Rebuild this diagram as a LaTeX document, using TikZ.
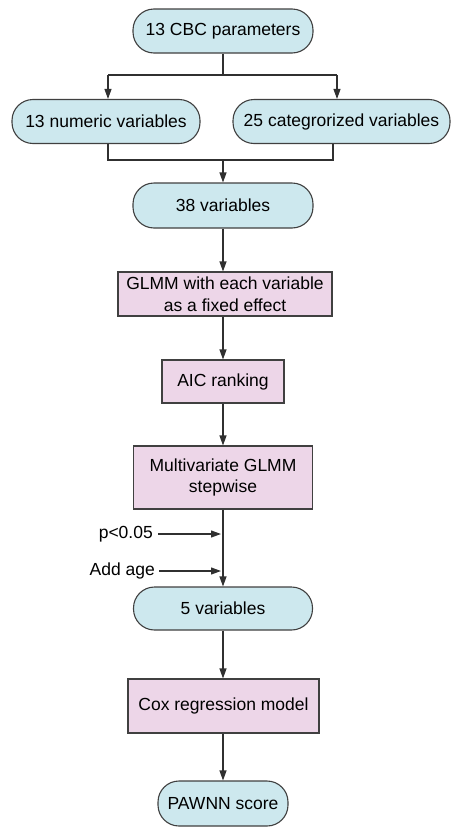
\documentclass[tikz,border=0pt]{standalone}
\usepackage{fontspec}
\setmainfont{Liberation Sans}
\usetikzlibrary{arrows.meta}
\definecolor{bluef}{HTML}{CDE8EE}
\definecolor{pinkf}{HTML}{EDD6E8}
\definecolor{edgec}{HTML}{404040}
\definecolor{linec}{HTML}{303030}
\begin{document}
\begin{tikzpicture}[x=1pt,y=-1pt,
  term/.style={draw=edgec, line width=1.1pt, fill=bluef, rounded corners=21pt, minimum height=44pt, inner sep=0pt, font=\fontsize{17.5}{21}\selectfont},
  proc/.style={draw=edgec, line width=1.1pt, fill=pinkf, inner sep=0pt, align=center, font=\fontsize{17.5}{21.5}\selectfont},
  conn/.style={draw=linec, line width=1.1pt},
  arr/.style={conn, -{Triangle[length=10pt,width=7pt]}},
  lbl/.style={inner sep=0pt, font=\fontsize{17.5}{21}\selectfont}]
\useasboundingbox (0,0) rectangle (451,830);
\node[term, minimum width=180pt] (cbc) at (223,31) {13 CBC parameters};
\node[term, minimum width=188pt] (num) at (106,121.5) {13 numeric variables};
\node[term, minimum width=217pt] (cat) at (341.5,121.5) {25 categrorized variables};
\node[term, minimum width=180pt, minimum height=45pt] (v38) at (223,205.5) {38 variables};
\node[proc, minimum width=214pt, minimum height=44pt] (glmm) at (225,294) {GLMM with each variable\\as a fixed effect};
\node[proc, minimum width=122pt, minimum height=43pt] (aic) at (223,381.5) {AIC ranking};
\node[proc, minimum width=179pt, minimum height=63pt] (mv) at (223,477.5) {Multivariate GLMM\\stepwise};
\node[term, minimum width=179pt, minimum height=43pt] (v5) at (223,608.5) {5 variables};
\node[proc, minimum width=191pt, minimum height=54pt] (cox) at (223.5,706) {Cox regression model};
\node[term, minimum width=130pt, minimum height=45pt] (pawnn) at (223,803.5) {PAWNN score};
\node[lbl, anchor=east] (p) at (153,534) {p<0.05};
\node[lbl, anchor=east] (age) at (155,571) {Add age};
% split
\coordinate (sl) at (108,75);
\coordinate (sr) at (337,75);
\draw[conn] (cbc.south) -- (cbc.south |- sl);
\draw[conn] (sl) -- (sr);
\draw[arr] (sl) -- (sl |- num.north);
\draw[arr] (sr) -- (sr |- cat.north);
% merge
\coordinate (ml) at (108,160);
\coordinate (mr) at (333,160);
\draw[conn] (ml |- num.south) -- (ml) -- (mr) -- (mr |- cat.south);
\draw[arr] (v38.north |- ml) -- (v38.north);
% main column
\draw[arr] (v38.south) -- (v38.south |- glmm.north);
\draw[arr] (aic.north |- glmm.south) -- (aic.north);
\draw[arr] (aic.south) -- (mv.north);
\draw[arr] (mv.south) -- (v5.north);
\draw[arr] (v5.south) -- (v5.south |- cox.north);
\draw[arr] (pawnn.north |- cox.south) -- (pawnn.north);
% side inputs
\draw[arr, shorten >=2pt] ([xshift=5pt]p.east) -- (p.east -| mv.south);
\draw[arr, shorten >=2pt] ([xshift=4pt]age.east) -- (age.east -| mv.south);
\end{tikzpicture}
\end{document}
